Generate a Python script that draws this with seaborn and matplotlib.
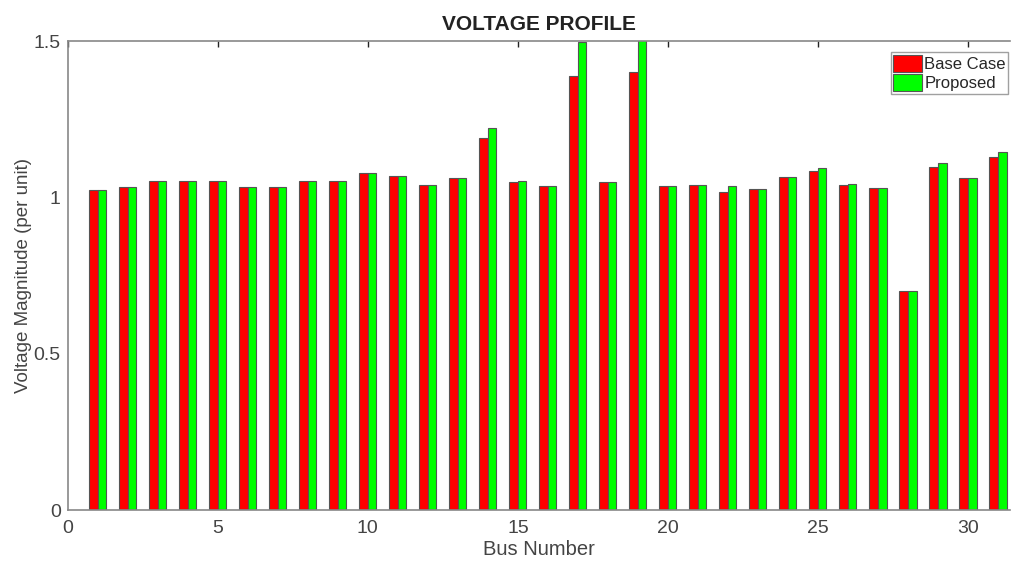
import seaborn as sns
import numpy as np
import pandas as pd
import matplotlib.pyplot as plt

buses = list(range(1, 32))
base_case = [1.023, 1.033, 1.052, 1.052, 1.052, 1.033, 1.033, 1.052, 1.052, 1.079,
             1.067, 1.040, 1.061, 1.189, 1.049, 1.036, 1.388, 1.049, 1.400, 1.036,
             1.040, 1.018, 1.026, 1.064, 1.083, 1.040, 1.029, 0.700, 1.096, 1.061,
             1.130]
proposed = [1.023, 1.033, 1.052, 1.052, 1.052, 1.033, 1.033, 1.052, 1.052, 1.079,
            1.067, 1.040, 1.061, 1.223, 1.052, 1.036, 1.496, 1.049, 1.530, 1.036,
            1.040, 1.036, 1.026, 1.064, 1.093, 1.044, 1.029, 0.700, 1.109, 1.061,
            1.146]
series = ["Base Case", "Proposed"]
colors = {"Base Case": "#ff0000", "Proposed": "#00ff00"}

df = pd.DataFrame({
    "bus": buses * 2,
    "value": base_case + proposed,
    "case": [series[0]] * len(buses) + [series[1]] * len(buses),
})

sns.set_style("white")
plt.rcParams["font.family"] = ["Liberation Sans", "DejaVu Sans"]

fig = plt.figure(figsize=(10.12, 5.62), dpi=100)
ax = fig.add_axes([0.067, 0.0925, 0.931, 0.8345])
sns.barplot(data=df, x="bus", y="value", hue="case", native_scale=True,
            palette=colors, saturation=1, width=0.57, gap=0,
            edgecolor="#555555", linewidth=0.8, ax=ax, errorbar=None)

ax.set_xlim(0, 31.4)
ax.set_ylim(0, 1.5)
ax.set_xticks([0, 5, 10, 15, 20, 25, 30])
ax.set_xticklabels(["0", "5", "10", "15", "20", "25", "30"])
ax.set_yticks([0, 0.5, 1, 1.5])
ax.set_yticklabels(["0", "0.5", "1", "1.5"])
ax.tick_params(direction="in", top=True, length=4, width=1, colors="#222222",
               labelcolor="#444444", labelsize=14)
ax.tick_params(axis="x", pad=7)
ax.tick_params(axis="y", pad=5)
for side in ["left", "bottom", "top"]:
    ax.spines[side].set_color("#888888")
    ax.spines[side].set_linewidth(1.2)
ax.spines["right"].set_visible(False)

ax.set_title("VOLTAGE PROFILE", fontsize=15, fontweight="bold", color="#222222", pad=8)
ax.set_xlabel("Bus Number", fontsize=14.5, color="#444444", labelpad=2)
ax.set_ylabel("Voltage Magnitude (per unit)", fontsize=13.5, color="#444444", labelpad=1)

leg = ax.legend(loc="upper right", bbox_to_anchor=(1.0, 0.98), fontsize=12,
                frameon=True, fancybox=False, edgecolor="#888888",
                handlelength=1.7, handleheight=1.2, handletextpad=0.15,
                borderpad=0.15, labelspacing=0.15, borderaxespad=0.1)
leg.get_frame().set_linewidth(1.0)

fig.savefig("out.png", dpi=100)
